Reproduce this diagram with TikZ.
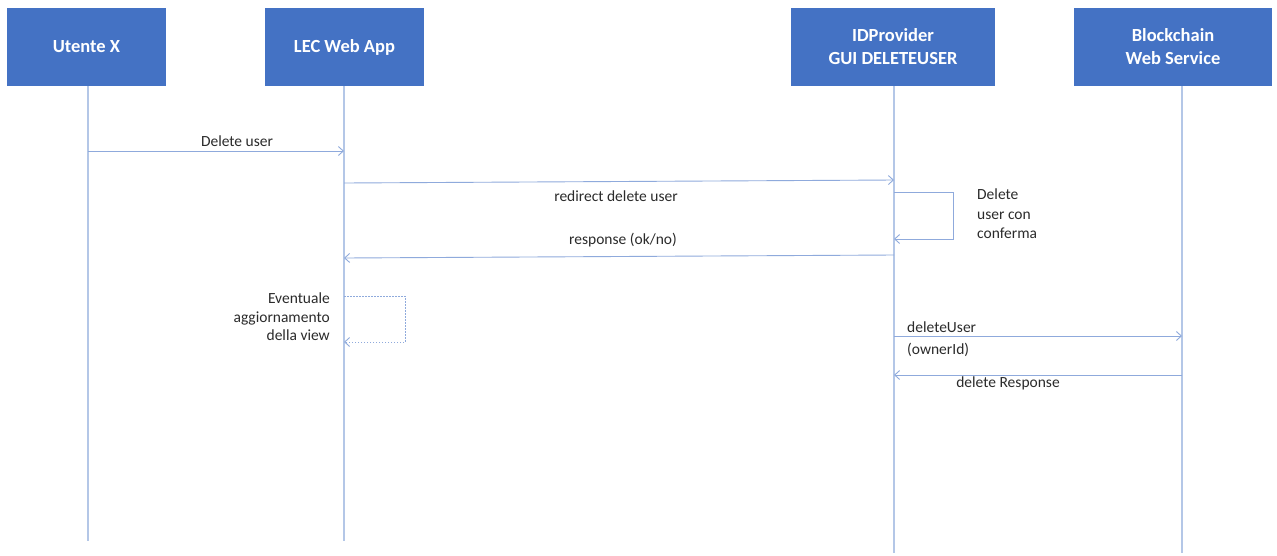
\documentclass[tikz,border=0pt]{standalone}
\usepackage{fontspec}
\setmainfont{Carlito}
\usetikzlibrary{arrows.meta}
\definecolor{boxblue}{HTML}{4472C4}
\definecolor{lifeblue}{HTML}{B4C7E7}
\definecolor{msgblue}{HTML}{8FAADC}
\definecolor{txt}{HTML}{2B2B2B}
\begin{document}
\begin{tikzpicture}[x=1pt,y=-1pt,
  actor/.style={draw=none,fill=boxblue,text=white,font=\bfseries\fontsize{18.5}{23}\selectfont,
    align=center,minimum height=78pt,inner sep=0pt},
  lifeline/.style={draw=lifeblue,line width=1.4pt},
  msg/.style={draw=msgblue,line width=0.9pt,-{Straight Barb[length=5pt,width=9pt]}},
  dotmsg/.style={msg,dash pattern=on 1.5pt off 1.5pt},
  lbl/.style={text=txt,font=\fontsize{15.5}{19.5}\selectfont,inner sep=0pt}]
\useasboundingbox (0,0) rectangle (1277,555);
\fill[white] (0,0) rectangle (1277,555);

% participants
\node[actor,minimum width=159pt] (ut) at (86.5,47) {Utente X};
\node[actor,minimum width=159pt] (lec) at (344.5,47) {LEC Web App};
\node[actor,minimum width=204pt] (idp) at (893,47) {IDProvider\\GUI DELETEUSER};
\node[actor,minimum width=198pt] (bc) at (1173,47) {Blockchain\\Web Service};

% lifelines
\coordinate (utEnd) at (88,541);
\coordinate (lecEnd) at (344,541);
\coordinate (idpEnd) at (894,553);
\coordinate (bcEnd) at (1182,553);
\draw[lifeline] (ut.south -| utEnd) -- (utEnd);
\draw[lifeline] (lec.south -| lecEnd) -- (lecEnd);
\draw[lifeline] (idp.south -| idpEnd) -- (idpEnd);
\draw[lifeline] (bc.south -| bcEnd) -- (bcEnd);

% message end points on the lifelines
\coordinate (m1a) at (88,151);   \coordinate (m1b) at (344,151);
\coordinate (m2a) at (344,183);  \coordinate (m2b) at (894,180);
\coordinate (s1a) at (894,192);  \coordinate (s1b) at (894,239);
\coordinate (m3a) at (894,255);  \coordinate (m3b) at (344,258);
\coordinate (s2a) at (344,296);  \coordinate (s2b) at (344,342);
\coordinate (m4a) at (894,336);  \coordinate (m4b) at (1182,336);
\coordinate (m5a) at (1182,375); \coordinate (m5b) at (894,375);

% messages
\draw[msg] (m1a) -- (m1b);
\node[lbl] (l1) at (237,141) {Delete user};

\draw[msg] (m2a) -- (m2b);
\node[lbl] (l2) at (616,196) {redirect delete user};

\draw[msg] (s1a) -- (953,192) -- (953,239) -- (s1b);
\node[lbl,align=left,anchor=north west] (l3) at (977,189) {Delete\\user con\\conferma};

\draw[msg] (m3a) -- (m3b);
\node[lbl] (l4) at (623,240) {response (ok/no)};

\draw[dotmsg] (s2a) -- (405,296) -- (405,342) -- (s2b);
\node[lbl,align=right,anchor=north east,font=\fontsize{15.5}{18.5}\selectfont] (l5) at (330,293) {Eventuale\\aggiornamento\\della view};

\draw[msg] (m4a) -- (m4b);
\node[lbl,anchor=west] (l6) at (907,327) {deleteUser};
\node[lbl,anchor=west] (l7) at (907,350) {(ownerId)};

\draw[msg] (m5a) -- (m5b);
\node[lbl] (l8) at (1008,383) {delete Response};
\end{tikzpicture}
\end{document}
